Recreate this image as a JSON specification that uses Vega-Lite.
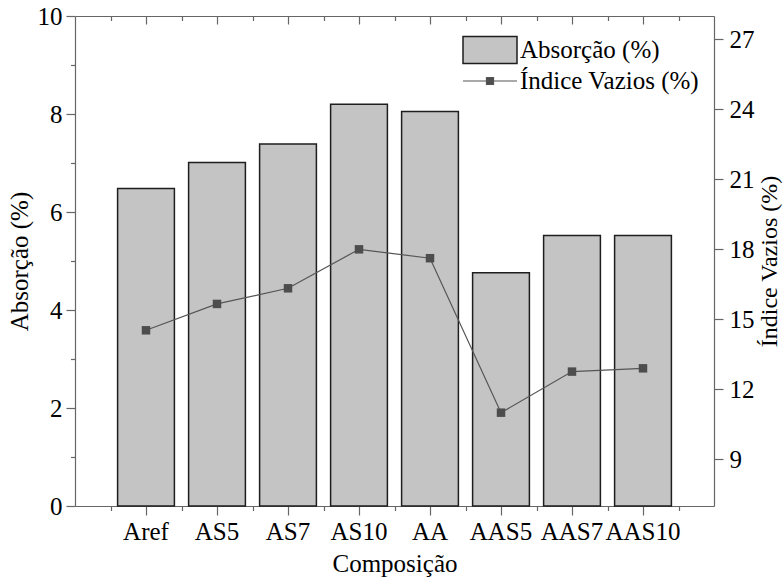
{
  "$schema": "https://vega.github.io/schema/vega-lite/v6.json",
  "autosize": {"type": "none"},
  "padding": {"left": 75, "top": 16, "right": 70, "bottom": 77},
  "width": 639,
  "height": 490,
  "background": "white",
  "config": {
    "font": "Liberation Serif",
    "view": {"stroke": null},
    "axis": {
      "labelFont": "Liberation Serif",
      "titleFont": "Liberation Serif",
      "labelFontSize": 25,
      "titleFontSize": 25,
      "labelColor": "#000000",
      "titleColor": "#000000",
      "titleFontWeight": "normal",
      "domainColor": "#666666",
      "tickColor": "#666666",
      "domainWidth": 1.2,
      "tickWidth": 1.2,
      "grid": false
    }
  },
  "data": {
    "values": [
      {"Composicao": "Aref", "Absorcao": 6.48, "Indice": 14.53},
      {"Composicao": "AS5", "Absorcao": 7.01, "Indice": 15.66},
      {"Composicao": "AS7", "Absorcao": 7.39, "Indice": 16.33},
      {"Composicao": "AS10", "Absorcao": 8.2, "Indice": 18.0},
      {"Composicao": "AA", "Absorcao": 8.05, "Indice": 17.62},
      {"Composicao": "AAS5", "Absorcao": 4.76, "Indice": 11.0},
      {"Composicao": "AAS7", "Absorcao": 5.52, "Indice": 12.76},
      {"Composicao": "AAS10", "Absorcao": 5.52, "Indice": 12.9}
    ]
  },
  "layer": [
    {
      "mark": {"type": "bar", "width": {"band": 0.8}, "stroke": "#1e1e1e", "strokeWidth": 1.5},
      "encoding": {
        "x": {
          "field": "Composicao", "type": "nominal", "sort": null,
          "scale": {"paddingInner": 0, "paddingOuter": 0.5},
          "axis": {"orient": "bottom", "labelAngle": 0, "tickSize": 9, "labelPadding": 4, "labelLimit": 200, "labelOverlap": false, "title": "Composição", "titlePadding": 7}
        },
        "y": {
          "field": "Absorcao", "type": "quantitative",
          "scale": {"domain": [0, 10], "nice": false},
          "axis": {"orient": "left", "values": [0, 2, 4, 6, 8, 10], "tickSize": 9, "labelPadding": 4, "title": "Absorção (%)", "titlePadding": 5}
        },
        "fill": {
          "datum": "Absorção (%)",
          "scale": {"range": ["#c4c4c4"]},
          "legend": {
            "title": null, "orient": "none", "legendX": 387, "legendY": 6, "padding": 0,
            "symbolType": "M-1,-0.5H1V0.5H-1Z", "symbolSize": 2916,
            "labelFont": "Liberation Serif", "labelFontSize": 25, "labelColor": "#000000", "labelOffset": 2, "labelLimit": 400,
            "encode": {"symbols": {"update": {"fill": {"value": "#c4c4c4"}, "stroke": {"value": "#1e1e1e"}, "strokeWidth": {"value": 1.5}}}}
          }
        }
      }
    },
    {
      "mark": {"type": "line", "strokeWidth": 1.2, "color": "#555555"},
      "encoding": {
        "x": {
          "field": "Composicao", "type": "nominal", "sort": null,
          "scale": {"paddingInner": 0, "paddingOuter": 0.5},
          "axis": {"orient": "bottom", "tickBand": "extent", "tickSize": 4.5, "labels": false, "domain": false, "title": null}
        },
        "y": {
          "field": "Indice", "type": "quantitative",
          "scale": {"domain": [7, 28], "nice": false, "zero": false},
          "axis": {"orient": "right", "values": [9, 12, 15, 18, 21, 24, 27], "tickSize": 9, "labelPadding": 6, "title": "Índice Vazios (%)", "titleFontSize": 24, "titleAngle": 270, "titleBaseline": "top", "titlePadding": 3}
        },
        "stroke": {
          "datum": "Índice Vazios (%)",
          "scale": {"range": ["#555555"]},
          "legend": {
            "title": null, "orient": "none", "legendX": 387, "legendY": 37, "padding": 0,
            "symbolType": "M-1,0H1M-0.13,-0.13H0.13V0.13H-0.13Z", "symbolSize": 2916,
            "labelFont": "Liberation Serif", "labelFontSize": 25, "labelColor": "#000000", "labelOffset": 2, "labelLimit": 400,
            "encode": {"symbols": {"update": {"fill": {"value": "#4d4d4d"}, "stroke": {"value": "#555555"}, "strokeWidth": {"value": 1.2}}}}
          }
        }
      }
    },
    {
      "mark": {"type": "square", "size": 72, "color": "#4d4d4d", "opacity": 1},
      "encoding": {
        "x": {
          "field": "Composicao", "type": "nominal", "sort": null,
          "scale": {"paddingInner": 0, "paddingOuter": 0.5},
          "axis": {"orient": "top", "tickSize": -8, "labels": false, "title": null, "domain": true}
        },
        "y": {
          "field": "Indice", "type": "quantitative",
          "scale": {"domain": [7, 28], "nice": false, "zero": false},
          "axis": null
        }
      }
    },
    {
      "mark": {"type": "point", "opacity": 0},
      "encoding": {
        "x": {
          "field": "Composicao", "type": "nominal", "sort": null,
          "scale": {"paddingInner": 0, "paddingOuter": 0.5},
          "axis": {"orient": "top", "tickBand": "extent", "tickSize": -4.5, "labels": false, "title": null, "domain": false}
        },
        "y": {
          "field": "Absorcao", "type": "quantitative",
          "scale": {"domain": [0, 10], "nice": false},
          "axis": {"orient": "left", "values": [1, 3, 5, 7, 9], "tickSize": 4.5, "labels": false, "title": null, "domain": false}
        }
      }
    }
  ],
  "resolve": {
    "scale": {"y": "independent"},
    "axis": {"x": "independent", "y": "independent"}
  }
}
